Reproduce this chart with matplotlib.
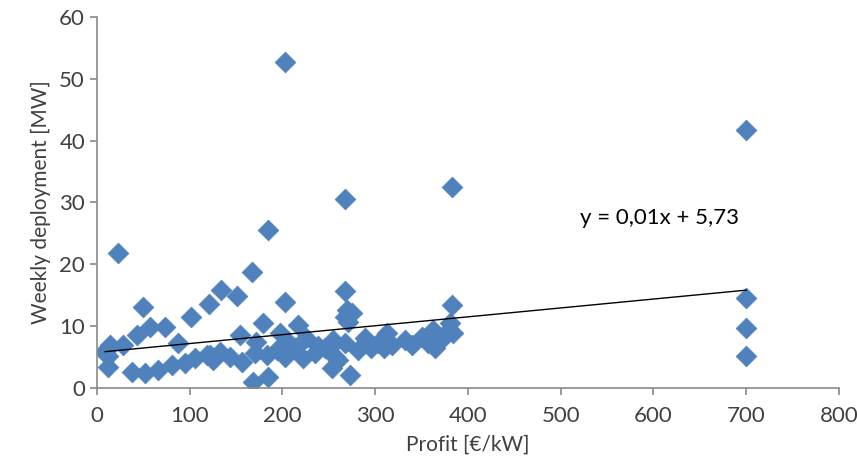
import matplotlib.pyplot as plt
import numpy as np

# Profit [EUR/kW] vs weekly deployment [MW]
profit = [9, 12, 12, 14, 12, 23, 28, 38, 43, 50, 52, 57, 66, 73, 81, 87, 95,
          102, 106, 121, 119, 125, 134, 151, 167, 184, 203, 203, 179, 217,
          154, 197, 172, 122, 133, 143, 157, 170, 183, 194, 203, 214, 222,
          235, 246, 205, 225, 238, 168, 184, 253, 273, 255, 251, 257, 260,
          268, 270, 268, 275, 271, 268, 268, 282, 289, 295, 303, 313, 318,
          332, 351, 362, 365, 357, 373, 383, 381, 380, 384, 383, 310, 340,
          700, 700, 700, 700]
deployment = [5.8, 3.4, 6.5, 7.0, 5.2, 21.8, 7.0, 2.6, 8.6, 13.1, 2.4, 9.9,
              2.9, 9.9, 3.7, 7.3, 4.0, 11.5, 4.9, 13.6, 5.3, 4.5, 15.9, 14.9,
              18.7, 25.6, 52.7, 13.9, 10.5, 10.2, 8.6, 8.9, 7.4, 5.3, 5.8,
              5.0, 4.2, 5.7, 5.3, 6.1, 5.0, 6.5, 4.9, 5.7, 6.5, 7.6, 8.0, 6.8,
              1.0, 1.8, 3.2, 2.0, 7.8, 6.6, 5.0, 4.5, 15.7, 12.6, 11.5, 12.1,
              10.7, 30.6, 7.3, 6.1, 8.1, 6.5, 7.3, 8.9, 7.0, 7.8, 8.3, 9.4,
              6.5, 7.3, 8.1, 13.4, 10.5, 9.4, 8.9, 32.5, 6.5, 7.0,
              41.7, 14.5, 9.7, 5.2]

# linear trend as drawn in the original
trend_slope = 0.0144
trend_intercept = 5.73
trend_label = "y = 0,01x + 5,73"

plt.rcParams['font.family'] = ['Lato', 'DejaVu Sans']
axis_grey = '#898989'
text_col = '#404040'

fig = plt.figure(figsize=(8.57, 4.73), dpi=100)
ax = fig.add_axes([0.113, 0.180, 0.866, 0.784])

ax.scatter(profit, deployment, marker='D', s=112, color='#4F81BD',
           edgecolors='#4F81BD', linewidths=0.5, zorder=2)

tx = np.array([min(profit), max(profit)])
ax.plot(tx, trend_slope * tx + trend_intercept, color='black',
        linewidth=1.0, zorder=3)
ax.text(607, 27.5, trend_label, fontsize=16, color='black',
        ha='center', va='center')

ax.set_xlim(0, 800)
ax.set_ylim(0, 60)
ax.set_xticks(range(0, 801, 100))
ax.set_yticks(range(0, 61, 10))

for side in ['top', 'right']:
    ax.spines[side].set_visible(False)
for side in ['left', 'bottom']:
    ax.spines[side].set_color(axis_grey)
    ax.spines[side].set_linewidth(1.2)

ax.tick_params(axis='both', colors=axis_grey, length=5, width=1.2,
               labelcolor=text_col, labelsize=16)
ax.tick_params(axis='x', pad=8)

ax.set_xlabel('Profit [€/kW]', fontsize=15, color=text_col, labelpad=6)
ax.set_ylabel('Weekly deployment [MW]', fontsize=15, color=text_col,
              labelpad=6)

plt.savefig('out.png', dpi=100)
